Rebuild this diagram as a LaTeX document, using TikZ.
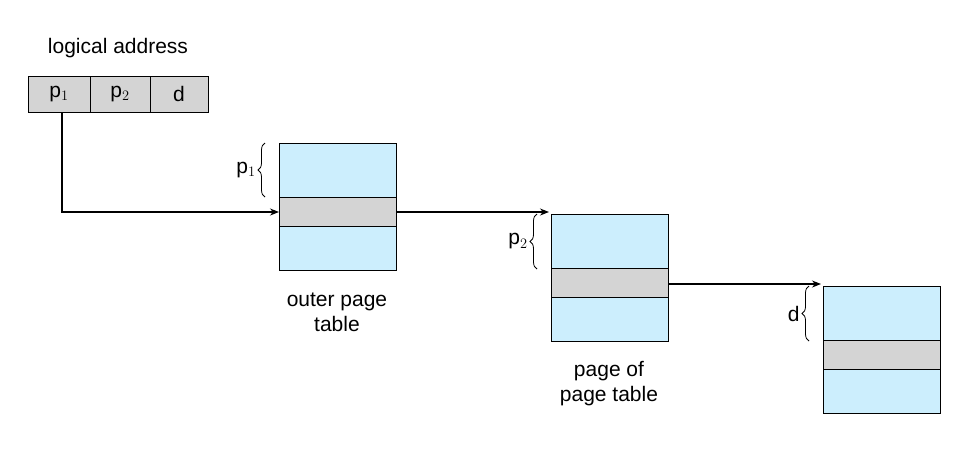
\documentclass[tikz,border=0pt]{standalone}
\usepackage{fontspec}
\setmainfont{Liberation Sans}
\usetikzlibrary{decorations.pathreplacing,arrows.meta}
\definecolor{lb}{HTML}{CCEEFD}
\definecolor{gr}{HTML}{D4D4D4}
\begin{document}
\begin{tikzpicture}[x=1pt,y=-1pt,
  cell/.style={draw,thick,fill=gr,minimum height=36pt,inner sep=0pt,font=\fontsize{21}{24}\selectfont},
  tx/.style={font=\fontsize{21}{25}\selectfont,align=center,inner sep=0pt},
  arr/.style={very thick,-{Stealth[length=9pt,width=7pt]}},
  br/.style={decorate,decoration={brace,amplitude=7pt},thick}]
\useasboundingbox (0,0) rectangle (970,451);
\node[tx] (la) at (118,48) {logical address};
\node[cell,minimum width=62pt] (c1) at (59,94) {p$_1$};
\node[cell,minimum width=60pt] (c2) at (120,94) {p$_2$};
\node[cell,minimum width=58pt] (c3) at (179,94) {d};
\newcommand{\tbl}[3]{%
  \fill[lb] (#1,#2) rectangle ++(117,127);
  \fill[gr] (#1,#2+54) rectangle ++(117,29);
  \draw[thick] (#1,#2) rectangle ++(117,127);
  \draw[thick] (#1,#2+54) -- ++(117,0) (#1,#2+83) -- ++(117,0);
  \coordinate (#3L) at (#1,#2+69);
  \coordinate (#3R) at (#1+117,#2+69);
  \coordinate (#3T) at (#1,#2);
  \coordinate (#3B) at (#1,#2+54);}
\tbl{279}{143}{a}
\tbl{551}{214}{b}
\tbl{823}{286}{c}
\coordinate (k) at (62,212);
\draw[arr] (c1.south -| k) -- (k) -- (aL |- k);
\coordinate (k2) at (549,212);
\draw[arr] (aR |- k2) -- (k2);
\coordinate (k3) at (821,284);
\draw[arr] (bR |- k3) -- (k3);
\draw[br] (265,197) -- (265,143) node[midway,left=9pt,tx] (lp1) {p$_1$};
\draw[br] (537,269) -- (537,214) node[midway,left=9pt,tx] (lp2) {p$_2$};
\draw[br] (809,341) -- (809,286) node[midway,left=9pt,tx] (ld) {d};
\node[tx] (t1) at (337,312) {outer page\\table};
\node[tx] (t2) at (609,384) {page of\\page table};
\end{tikzpicture}
\end{document}
